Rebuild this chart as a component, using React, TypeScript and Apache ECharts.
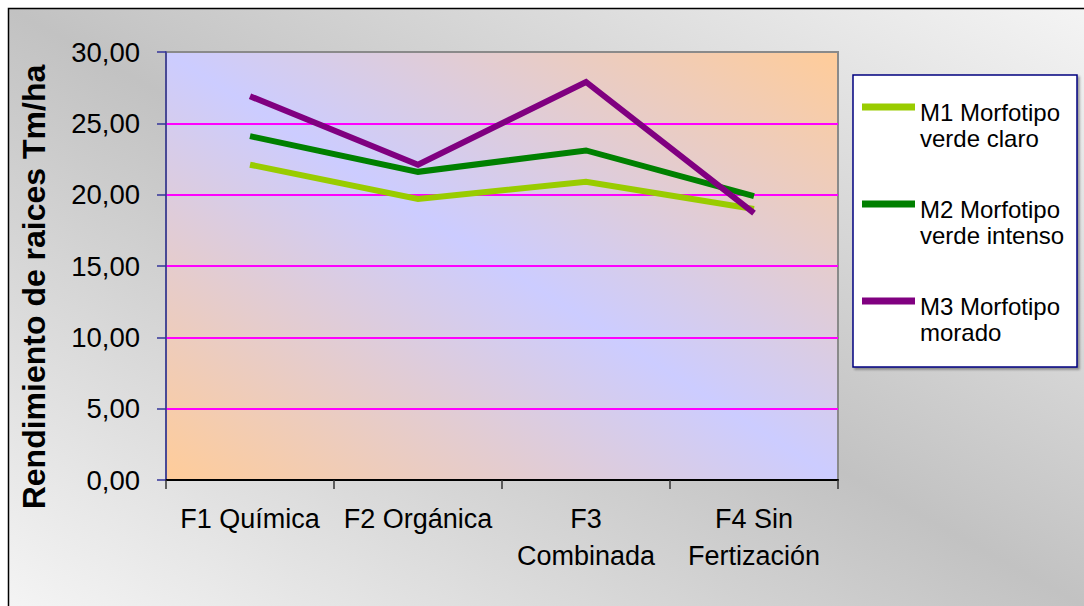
import React, { useEffect, useRef } from "react";
import * as echarts from "echarts";

const categories = ["F1 Química", "F2 Orgánica", "F3\nCombinada", "F4 Sin\nFertización"];
const seriesNames = ["M1 Morfotipo\nverde claro", "M2 Morfotipo\nverde intenso", "M3 Morfotipo\nmorado"];
const m1Values = [22.1, 19.7, 20.9, 19.0];
const m2Values = [24.1, 21.6, 23.1, 19.9];
const m3Values = [26.9, 22.1, 27.9, 18.7];
const seriesColors = ["#99CC00", "#008000", "#800080"];
const yTicks = { min: 0, max: 30, interval: 5 };
const yAxisTitle = "Rendimiento de raices Tm/ha";

const FONT = "'Liberation Sans', Arial, sans-serif";

export default function App() {
  const ref = useRef<HTMLDivElement>(null);
  useEffect(() => {
    if (!ref.current) return;
    const chart = echarts.init(ref.current, null, { renderer: "svg" });
    const values = [m1Values, m2Values, m3Values];
    chart.setOption({
      animation: false,
      backgroundColor: "#ffffff",
      graphic: [
        {
          type: "rect",
          z: -100,
          silent: true,
          shape: { x: 8, y: 8, width: 1076, height: 598 },
          style: {
            fill: new echarts.graphic.LinearGradient(0, 1, 1, 0, [
              { offset: 0, color: "#f4f4f4" },
              { offset: 0.5, color: "#c2c2c2" },
              { offset: 1, color: "#f4f4f4" },
            ]),
            stroke: "none",
          },
        },
        {
          type: "polyline",
          z: -99,
          silent: true,
          shape: { points: [[8.5, 606], [8.5, 8.5], [1084, 8.5]] },
          style: { stroke: "#000000", lineWidth: 1.5, fill: "none" },
        },
        {
          type: "rect",
          z: -50,
          silent: true,
          shape: { x: 853, y: 75, width: 224, height: 292 },
          style: {
            fill: "#ffffff",
            stroke: "#000080",
            lineWidth: 1.5,
            shadowColor: "rgba(0,0,0,0.35)",
            shadowOffsetX: 2,
            shadowOffsetY: 2,
            shadowBlur: 2,
          },
        },
      ],
      grid: {
        left: 166,
        top: 52,
        width: 672,
        height: 428,
        show: true,
        borderColor: "#8a8a8a",
        borderWidth: 2,
        backgroundColor: new echarts.graphic.LinearGradient(0, 1, 1, 0, [
          { offset: 0, color: "#FFCC99" },
          { offset: 0.5, color: "#CCCCFF" },
          { offset: 1, color: "#FFCC99" },
        ]),
      },
      legend: {
        left: 862,
        top: 76,
        orient: "vertical",
        padding: 0,
        itemGap: 23,
        itemWidth: 53,
        itemHeight: 7,
        icon: "rect",
        data: seriesNames,
        formatter: (name: string) =>
          "{g| }\n" + name.split("\n").map((s) => `{t|${s}}`).join("\n"),
        textStyle: {
          color: "#000000",
          fontFamily: FONT,
          fontSize: 24,
          rich: {
            g: { fontSize: 10, lineHeight: 36, fontFamily: FONT },
            t: { fontSize: 24, lineHeight: 26, fontFamily: FONT, color: "#000000" },
          },
        },
      },
      xAxis: {
        type: "category",
        data: categories,
        boundaryGap: true,
        axisLine: { lineStyle: { color: "#000000", width: 2 } },
        axisTick: { show: true, length: 9, lineStyle: { color: "#333333", width: 1.5 } },
        axisLabel: {
          interval: 0,
          color: "#000000",
          fontFamily: FONT,
          fontSize: 27,
          lineHeight: 37,
          margin: 20,
        },
        splitLine: { show: false },
      },
      yAxis: {
        type: "value",
        min: yTicks.min,
        max: yTicks.max,
        interval: yTicks.interval,
        name: yAxisTitle,
        nameLocation: "middle",
        nameRotate: 90,
        nameGap: 116,
        nameTextStyle: {
          color: "#000000",
          fontFamily: FONT,
          fontSize: 32,
          fontWeight: "bold",
          padding: [0, 42, 0, 0],
        },
        axisLine: { show: true, lineStyle: { color: "#333399", width: 1.5 } },
        axisTick: { show: true, inside: false, length: 9, lineStyle: { color: "#333399", width: 1.5 } },
        axisLabel: {
          color: "#000000",
          fontFamily: FONT,
          fontSize: 27.5,
          margin: 26,
          formatter: (v: number) => v.toFixed(2).replace(".", ","),
        },
        splitLine: {
          show: true,
          lineStyle: {
            color: ["#FF00FF", "#FF00FF", "#FF00FF", "#FF00FF", "#FF00FF", "#FF00FF", "#8a8a8a"],
            width: 2,
          },
        },
      },
      series: seriesNames.map((name, i) => ({
        name,
        type: "line",
        data: values[i],
        symbol: "none",
        color: seriesColors[i],
        lineStyle: { color: seriesColors[i], width: 6, cap: "butt", join: "miter" },
        itemStyle: { color: seriesColors[i] },
      })),
    });
    return () => chart.dispose();
  }, []);
  return (
    <div
      ref={ref}
      style={{ position: "fixed", left: 0, top: 0, width: 1084, height: 606 }}
    />
  );
}
